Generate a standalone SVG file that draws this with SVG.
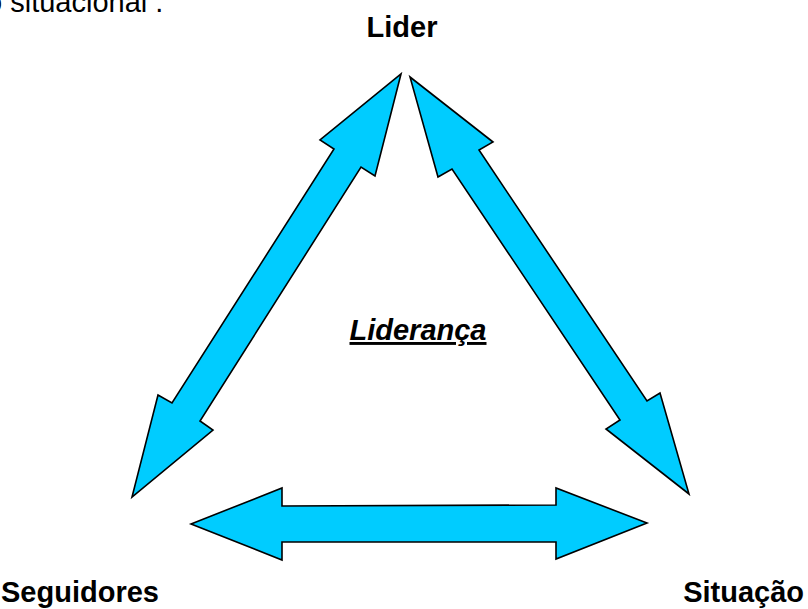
<svg xmlns="http://www.w3.org/2000/svg" width="808" height="609" viewBox="0 0 808 609">
<style>
.arrow{fill:#00CCFF;stroke:#000;stroke-width:1.6;stroke-linejoin:miter}
.lbl{font-family:"Liberation Sans",Arial,sans-serif;font-size:29px;font-weight:bold;fill:#000}
.top{font-family:"Liberation Sans",Arial,sans-serif;font-size:29px;fill:#000}
</style>
<rect width="808" height="609" fill="#fff"/>
<text class="top" x="-14" y="12">o situacional .</text>
<g id="connectors">
<polygon class="arrow" points="401,74 375,176 361,167 200,421 213,430 132,497 158,395 172,403 334,149 320,140"/>
<polygon class="arrow" points="410,77 493,142 479,150 647,401 660,393 689,494 606,429 620,420 452,169 438,177"/>
<polygon class="arrow" points="191,524 282,488 282,506 556,505 556,488 647,523 556,559 556,542 282,542 282,560"/>
</g>
<g id="lider"><text class="lbl" x="402" y="37" text-anchor="middle">Lider</text></g>
<g id="seguidores"><text class="lbl" x="1" y="602">Seguidores</text></g>
<g id="situacao"><text class="lbl" x="804" y="602" font-size="28" text-anchor="end">Situação</text></g>
<g id="lideranca"><text class="lbl" x="418" y="340" text-anchor="middle" font-style="italic" text-decoration="underline">Liderança</text></g>
</svg>
